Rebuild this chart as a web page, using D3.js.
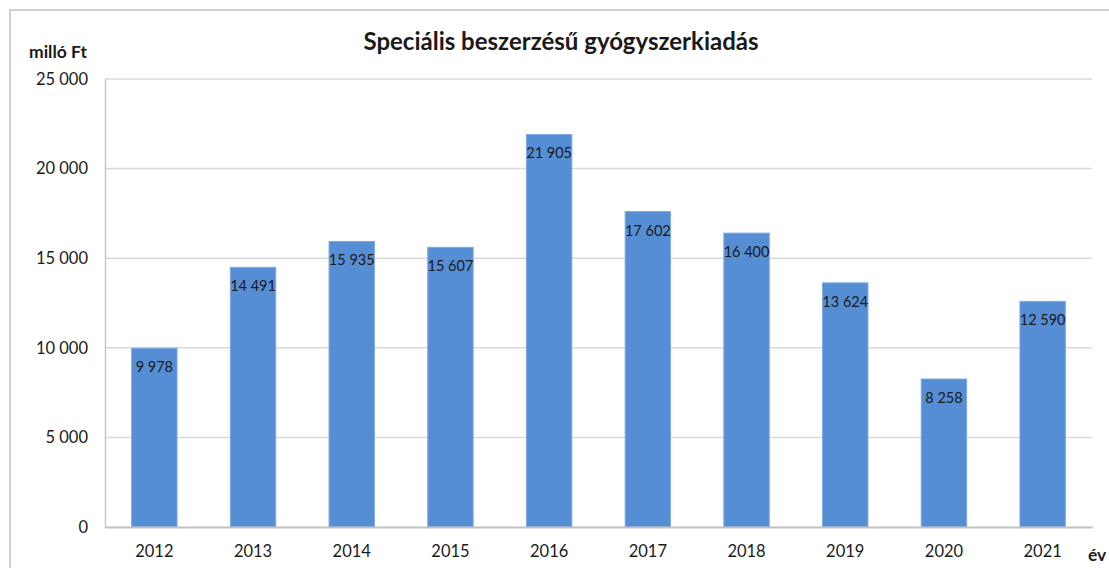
<!DOCTYPE html>
<html>
<head>
<meta charset="utf-8">
<script src="https://cdn.jsdelivr.net/npm/d3@7"></script>
<style>
  body { margin: 0; background: #fff; }
  text { font-family: Lato, "Open Sans", sans-serif; fill: #1a1a1a; }
</style>
</head>
<body>
<div id="chart"></div>
<script>
const years = ["2012", "2013", "2014", "2015", "2016", "2017", "2018", "2019", "2020", "2021"];
const values = [9978, 14491, 15935, 15607, 21905, 17602, 16400, 13624, 8258, 12590];
const yTicks = [0, 5000, 10000, 15000, 20000, 25000];

const width = 1109;
const height = 568;
const margin = { top: 79, right: 17, bottom: 41, left: 105 };

const locale = d3.formatLocale({ decimal: ",", thousands: "\u00a0", grouping: [3], currency: ["", " Ft"] });
const fmt = locale.format(",d");

const svg = d3.select("#chart")
  .append("svg")
  .attr("width", width)
  .attr("height", height);

// outer chart frame (runs off the picture on right and bottom)
svg.append("rect")
  .attr("x", 10)
  .attr("y", 10)
  .attr("width", width + 20)
  .attr("height", height + 20)
  .attr("fill", "none")
  .attr("stroke", "#d0d0d0")
  .attr("stroke-width", 2);

const x = d3.scaleBand()
  .domain(years)
  .range([margin.left, width - margin.right])
  .paddingInner(0.54)
  .paddingOuter(0.27);

const y = d3.scaleLinear()
  .domain([0, 25000])
  .range([height - margin.bottom, margin.top]);

// gridlines
svg.append("g")
  .selectAll("line")
  .data(yTicks.filter(d => d > 0))
  .join("line")
  .attr("x1", margin.left)
  .attr("x2", width - margin.right)
  .attr("y1", d => y(d))
  .attr("y2", d => y(d))
  .attr("stroke", "#d9d9d9")
  .attr("stroke-width", 1.5);

// y axis
const yAxis = svg.append("g")
  .attr("transform", `translate(${margin.left},0)`)
  .call(d3.axisLeft(y).tickValues(yTicks).tickFormat(fmt).tickSize(0).tickPadding(17));
yAxis.select(".domain").attr("stroke", "#c8c8c8").attr("stroke-width", 1.5);
yAxis.selectAll("text").attr("font-size", 16.5).attr("fill", "#1a1a1a");

// bars
svg.append("g")
  .selectAll("rect")
  .data(values)
  .join("rect")
  .attr("x", (d, i) => x(years[i]))
  .attr("y", d => y(d))
  .attr("width", x.bandwidth())
  .attr("height", d => y(0) - y(d))
  .attr("fill", "#558ed5")
  .attr("stroke", "#7fa9e0")
  .attr("stroke-width", 1);

// value labels inside bar tops
svg.append("g")
  .selectAll("text")
  .data(values)
  .join("text")
  .attr("x", (d, i) => x(years[i]) + x.bandwidth() / 2)
  .attr("y", d => y(d) + 24)
  .attr("text-anchor", "middle")
  .attr("font-size", 14.5)
  .attr("fill", "#111")
  .text(d => fmt(d));

// x axis
const xAxis = svg.append("g")
  .attr("transform", `translate(0,${height - margin.bottom})`)
  .call(d3.axisBottom(x).tickSize(0).tickPadding(18));
xAxis.select(".domain").attr("stroke", "#c0c0c0").attr("stroke-width", 2);
xAxis.selectAll("text").attr("font-size", 16.5).attr("fill", "#1a1a1a");

// titles
svg.append("text")
  .attr("x", 561)
  .attr("y", 50)
  .attr("text-anchor", "middle")
  .attr("font-size", 24)
  .attr("font-weight", "bold")
  .attr("fill", "#111")
  .text("Speciális beszerzésű gyógyszerkiadás");

svg.append("text")
  .attr("x", 29)
  .attr("y", 58)
  .attr("font-size", 17.5)
  .attr("font-weight", "bold")
  .attr("fill", "#111")
  .text("milló Ft");

svg.append("text")
  .attr("x", 1088)
  .attr("y", 561)
  .attr("font-size", 17.5)
  .attr("font-weight", "bold")
  .attr("fill", "#111")
  .text("év");
</script>
</body>
</html>
